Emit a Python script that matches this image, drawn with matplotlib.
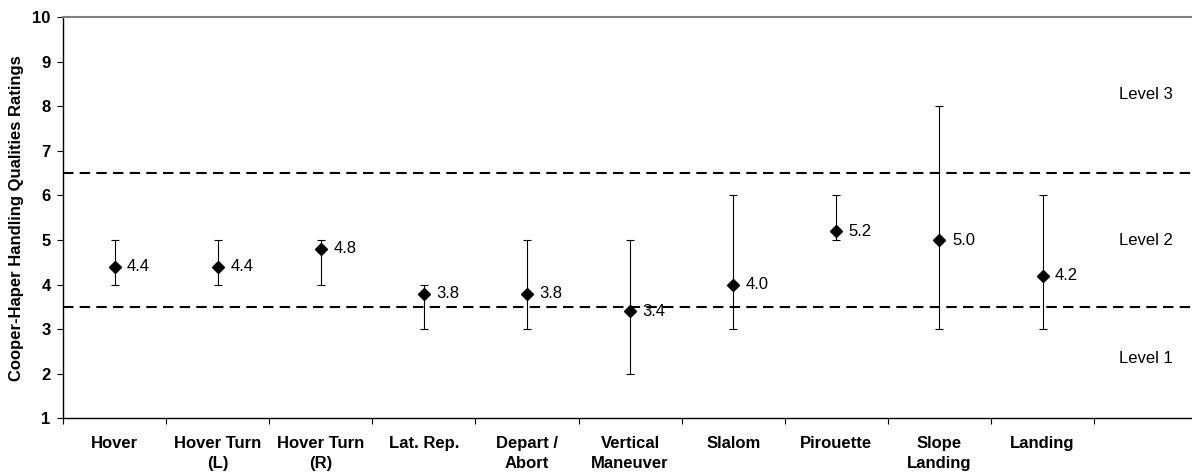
import numpy as np
from matplotlib import pyplot as plt

# Task ratings: mean with min/max spread
tasks = ["Hover", "Hover Turn\n(L)", "Hover Turn\n(R)", "Lat. Rep.", "Depart /\nAbort",
         "Vertical\nManeuver", "Slalom", "Pirouette", "Slope\nLanding", "Landing"]
mean_rating = [4.4, 4.4, 4.8, 3.8, 3.8, 3.4, 4.0, 5.2, 5.0, 4.2]
min_rating = [4, 4, 4, 3, 3, 2, 3, 5, 3, 3]
max_rating = [5, 5, 5, 4, 5, 5, 6, 6, 8, 6]

level_bounds = [3.5, 6.5]
level_names = ["Level 1", "Level 2", "Level 3"]
level_pos = [2.35, 5.0, 8.27]

plt.rcParams['font.family'] = ['Liberation Sans', 'DejaVu Sans']

fig = plt.figure(figsize=(11.92, 4.76), dpi=100)
ax = fig.add_axes([0.0529, 0.121, 0.9471, 0.843])

x = np.arange(len(tasks)) + 0.5
mean_arr = np.array(mean_rating)
yerr = [mean_arr - np.array(min_rating), np.array(max_rating) - mean_arr]

ax.errorbar(x, mean_arr, yerr=yerr, fmt="none", ecolor="black", elinewidth=0.8,
            capsize=3, capthick=0.8, zorder=3)
ax.plot(x, mean_arr, linestyle="none", marker="D", markersize=6.5,
        color="black", zorder=4)

for xi, yi in zip(x, mean_rating):
    ax.annotate(f"{yi:.1f}", (xi, yi), xytext=(9, 0), textcoords="offset points",
                ha="left", va="center", fontsize=12)

for b in level_bounds:
    ax.axhline(b, color="black", linestyle=(0, (5, 3)), linewidth=1.5, zorder=2)

for name, ypos in zip(level_names, level_pos):
    ax.text(10.5, ypos, name, ha="center", va="center", fontsize=12)

ax.set_xlim(0, 10.95)
ax.set_ylim(1, 10)
ax.set_yticks(range(1, 11))
ax.set_xticks(range(0, 11))
ax.set_xticklabels([])
ax.set_xticks(x, minor=True)
ax.set_xticklabels(tasks, minor=True, fontweight="bold", fontsize=12, linespacing=1.35)
ax.tick_params(axis="x", which="minor", length=0, pad=13)
ax.tick_params(axis="x", which="major", direction="out", length=4, width=0.8)
ax.tick_params(axis="y", direction="out", length=4, width=0.8, pad=5)
for lbl in ax.get_yticklabels():
    lbl.set_fontweight("bold")
    lbl.set_fontsize(12)

ax.set_ylabel("Cooper-Haper Handling Qualities Ratings", fontweight="bold", fontsize=12,
              labelpad=6)

ax.spines["right"].set_visible(False)
ax.spines["top"].set_color("#808080")
ax.spines["top"].set_linewidth(1.5)
ax.spines["left"].set_linewidth(1.0)
ax.spines["bottom"].set_linewidth(1.0)

fig.savefig("out.png", dpi=100)
